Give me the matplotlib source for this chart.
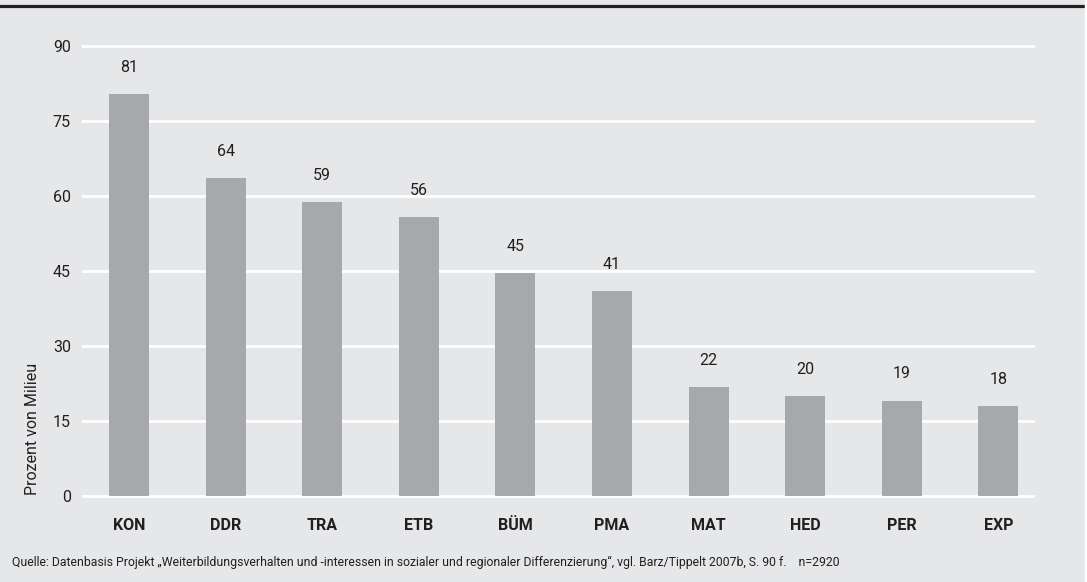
import matplotlib
matplotlib.use('Agg')
import matplotlib.pyplot as plt
from matplotlib.lines import Line2D

milieus = ['KON', 'DDR', 'TRA', 'ETB', 'BÜM', 'PMA', 'MAT', 'HED', 'PER', 'EXP']
prozent = [80.4, 63.6, 58.8, 55.8, 44.6, 41.0, 21.8, 20.0, 19.1, 18.0]
beschriftung = ['81', '64', '59', '56', '45', '41', '22', '20', '19', '18']
y_ticks = [0, 15, 30, 45, 60, 75, 90]

hintergrund = '#e6e7e8'
balken_farbe = '#a7a8ab'
text_farbe = '#231f20'

plt.rcParams['font.family'] = ['Roboto', 'DejaVu Sans']

fig = plt.figure(figsize=(10.87, 5.82), dpi=100, facecolor=hintergrund)
ax = fig.add_axes([82/1087, 1 - 501/582, (1035-82)/1087, 460/582])
ax.set_facecolor(hintergrund)

pos = range(len(milieus))
balken = ax.bar(pos, prozent, width=0.414, color=balken_farbe, zorder=2)

# Zahl über jedem Balken
for rect, txt in zip(balken, beschriftung):
    ax.annotate(txt, xy=(rect.get_x() + rect.get_width() / 2, rect.get_height()),
                xytext=(0, 19), textcoords='offset pixels',
                ha='center', va='bottom', fontsize=11.5, color=text_farbe)

ax.set_xlim(-0.487, 9.38)
ax.set_ylim(-1, 91)
ax.set_yticks(y_ticks)
ax.set_xticks(list(pos))
ax.set_xticklabels(milieus, fontweight='bold')
ax.tick_params(axis='y', length=0, pad=8, labelsize=11.5, labelcolor=text_farbe)
ax.tick_params(axis='x', length=0, pad=12, labelsize=11.5, labelcolor=text_farbe)
ax.yaxis.grid(True, color='white', linewidth=2)
ax.set_axisbelow(True)
for s in ax.spines.values():
    s.set_visible(False)

fig.text(33/1087, 1 - 495/582, 'Prozent von Milieu', rotation=90,
         ha='center', va='bottom', fontsize=11.5, color=text_farbe)

fig.text(12/1087, 1 - 562/582,
         'Quelle: Datenbasis Projekt „Weiterbildungsverhalten und -interessen in sozialer und '
         'regionaler Differenzierung“, vgl. Barz/Tippelt 2007b, S. 90 f.    n=2920',
         ha='left', va='center', fontsize=8.8, color=text_farbe)

# schwarze Linie oben und weisser Rand rechts
fig.add_artist(Line2D([0, 1], [1 - 5.5/582, 1 - 5.5/582], transform=fig.transFigure,
                      color=text_farbe, linewidth=2.3))
fig.add_artist(Line2D([1 - 1.5/1087, 1 - 1.5/1087], [0, 1], transform=fig.transFigure,
                      color='white', linewidth=2.5))

fig.savefig('out.png', dpi=100, facecolor=hintergrund)
